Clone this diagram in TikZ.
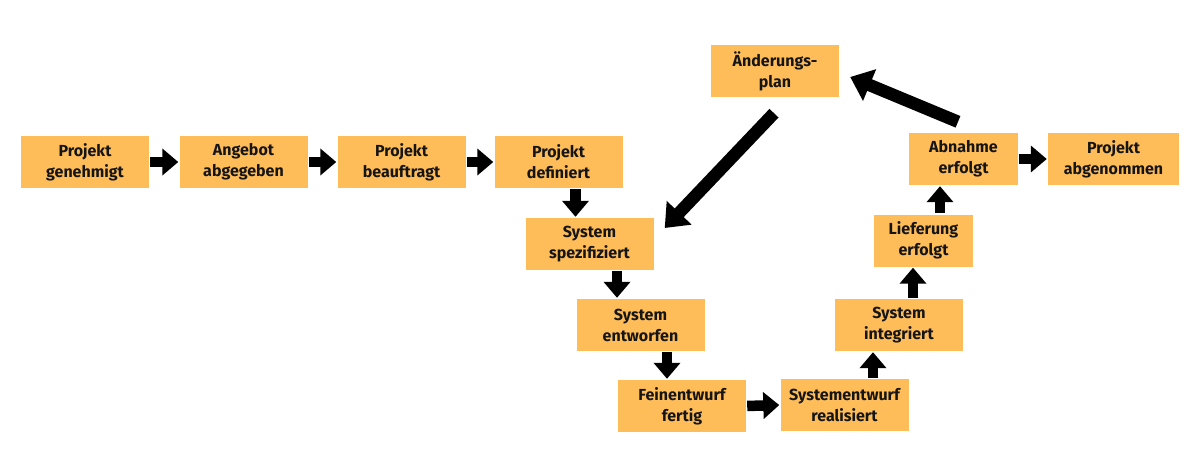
\documentclass[tikz,border=0pt]{standalone}
\usepackage{fontspec}
\setmainfont{Fira Sans}
\usetikzlibrary{arrows.meta}
\definecolor{kasten}{HTML}{FFBD59}
\definecolor{schrift}{HTML}{151515}
\begin{document}
\begin{tikzpicture}[x=1pt,y=-1pt, line join=round,
	box/.style={fill=kasten, inner sep=0pt, minimum height=52pt, minimum width=128pt, align=center, text=schrift,
		font=\fontsize{16pt}{21pt}\selectfont\bfseries},
	pfeil/.style={line width=10.5pt, -{Triangle[width=26pt,length=16pt]}, shorten <=1pt, shorten >=1pt},
	diag/.style={line width=12.5pt, -{Triangle[width=33pt,length=21pt]}}]
	\useasboundingbox (0,0) rectangle (1200,450);
	% Kasten
	\node[box] (p1) at (85,162) {Projekt\\genehmigt};
	\node[box] (p2) at (243.5,162) {Angebot\\abgegeben};
	\node[box] (p3) at (401.5,162) {Projekt\\beauftragt};
	\node[box] (p4) at (558.5,162) {Projekt\\definiert};
	\node[box] (aend) at (775,71) {Änderungs-\\plan};
	\node[box] (spez) at (589.5,244) {System\\spezifiziert};
	\node[box] (entw) at (640.5,325) {System\\entworfen};
	\node[box] (fein) at (682,406) {Feinentwurf\\fertig};
	\node[box] (real) at (844.5,405) {Systementwurf\\realisiert};
	\node[box] (integ) at (899,325) {System\\integriert};
	\node[box, minimum width=99pt] (liefer) at (923.5,240.5) {Lieferung\\erfolgt};
	\node[box, minimum width=109pt] (abnahme) at (963.5,159) {Abnahme\\erfolgt};
	\node[box, minimum width=131pt] (abgen) at (1113.5,159) {Projekt\\abgenommen};
	% Pfeile
	\foreach \a/\b in {p1/p2,p2/p3,p3/p4,fein/real,abnahme/abgen}
		\draw[pfeil] (\a.east) -- (\b.west);
	\foreach \a/\b/\u/\v in {p4/spez/17/-14, spez/entw/27.5/-23.5, entw/fein/26.5/-15}
		\draw[pfeil] ([xshift=\u pt]\a.south) -- ([xshift=\v pt]\b.north);
	\foreach \a/\b/\u/\v in {real/integ/28.5/-26, integ/liefer/14/-10.5, liefer/abnahme/16.5/-23.5}
		\draw[pfeil] ([xshift=\u pt]\a.north) -- ([xshift=\v pt]\b.south);
	\draw[diag] ([xshift=-5.5pt,yshift=11pt]abnahme.north) -- ([xshift=11pt,yshift=-6pt]aend.east);
	\draw[diag] ([xshift=-1pt,yshift=-16pt]aend.south) -- ([xshift=11pt,yshift=16pt]spez.east);
\end{tikzpicture}
\end{document}
